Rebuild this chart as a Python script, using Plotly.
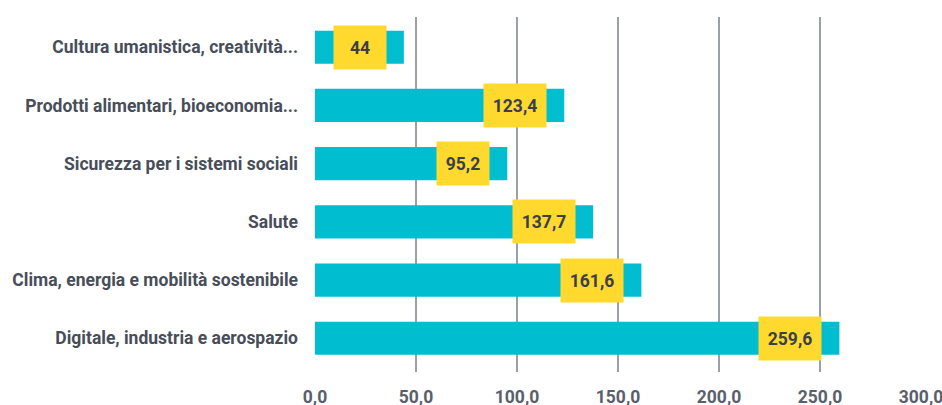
import plotly.graph_objects as go

categories = [
    "Cultura umanistica, creatività...",
    "Prodotti alimentari, bioeconomia...",
    "Sicurezza per i sistemi sociali",
    "Salute",
    "Clima, energia e mobilità sostenibile",
    "Digitale, industria e aerospazio",
]
values = [44, 123.4, 95.2, 137.7, 161.6, 259.6]
value_labels = ["44", "123,4", "95,2", "137,7", "161,6", "259,6"]
x_ticks = [0, 50, 100, 150, 200, 250, 300]

BAR = "#00BDD0"
YEL = "#FFD92E"
TXT = "#474d59"
FS = 17.5

fig = go.Figure(go.Bar(
    x=values, y=categories, orientation="h",
    marker=dict(color=BAR, line=dict(width=0)),
    hoverinfo="skip",
))

for v, c, lab in zip(values, categories, value_labels):
    w = max(40, 10 * len(lab))
    fig.add_annotation(
        x=v, y=c, xref="x", yref="y", text=f"<b>{lab}</b>",
        showarrow=False, xanchor="right", xshift=-17,
        bgcolor=YEL, borderpad=6, width=w, height=31, align="center",
        font=dict(family="Roboto", size=FS, color="#3a3f4b"),
    )

fig.update_layout(
    width=942, height=405,
    margin=dict(l=315, r=21, t=17, b=33),
    plot_bgcolor="white", paper_bgcolor="white",
    separators=",.",
    bargap=0.43,
    showlegend=False,
    font=dict(family="Roboto", size=FS, color=TXT),
)
fig.update_xaxes(
    range=[0, 300], tickvals=x_ticks, tickformat=".1f",
    showgrid=True, gridcolor="#9aa0a8", gridwidth=2,
    zeroline=False, showline=False, automargin=False,
    ticks="", ticklabelstandoff=12, ticklabeloverflow="allow",
    tickfont=dict(family="Roboto", size=FS, color="#5a606b", weight="bold"),
)
fig.update_yaxes(
    categoryorder="array", categoryarray=categories,
    range=[5.58, -0.52], showgrid=False, zeroline=False, showline=False,
    automargin=False, ticks="", ticklabelstandoff=16,
    tickfont=dict(family="Roboto", size=FS, color=TXT, weight="bold"),
)

fig.write_html("out.html")
